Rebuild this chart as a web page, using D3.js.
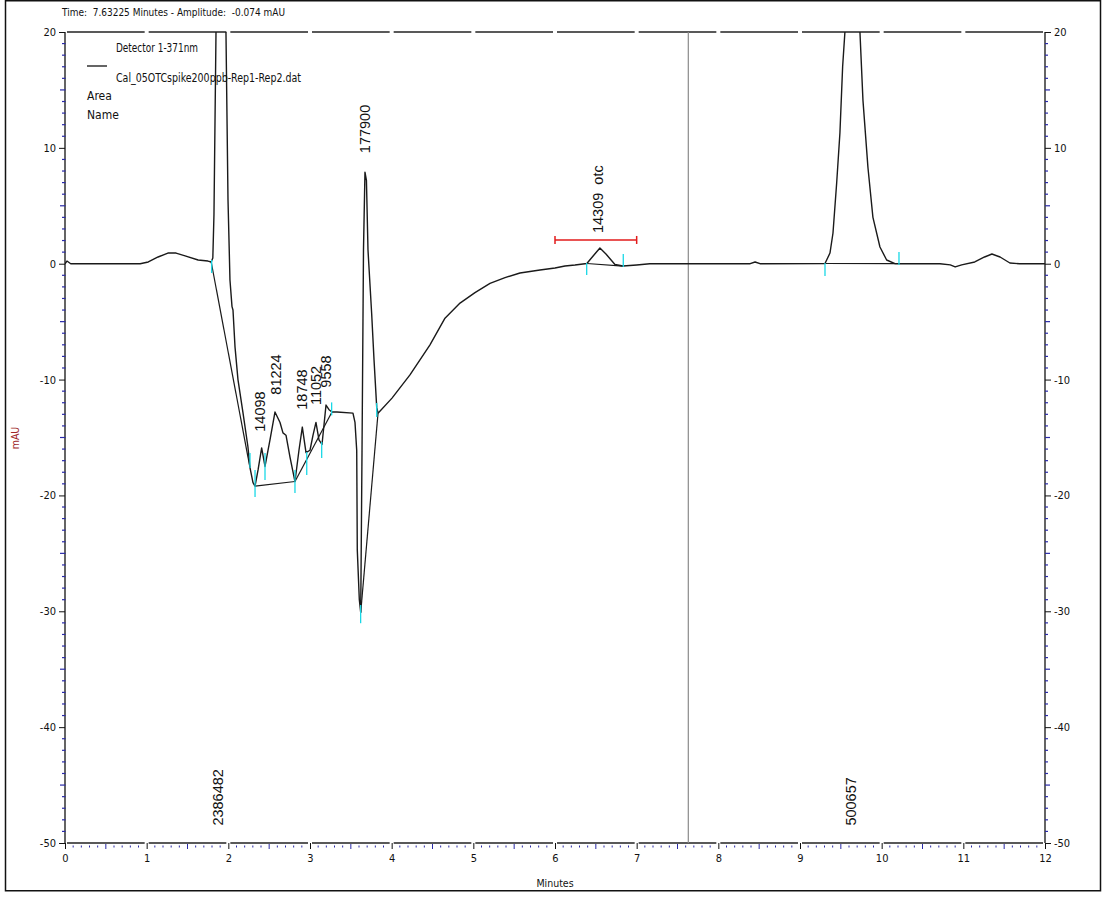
<!DOCTYPE html>
<html>
<head>
<meta charset="utf-8">
<script src="https://cdn.jsdelivr.net/npm/d3@7"></script>
<style>
  html, body { margin: 0; background: #fff; }
  svg { display: block; }
</style>
</head>
<body>
<svg id="chart" width="1103" height="897"></svg>
<script>
// ---- data -------------------------------------------------------------
const cursorTime = 7.63225;           // minutes
const cursorAmplitude = -0.074;       // mAU
const detectorName = "Detector 1-371nm";
const fileName = "Cal_05OTCspike200ppb-Rep1-Rep2.dat";
const legendFields = ["Area", "Name"];

const timeTicks = [0, 1, 2, 3, 4, 5, 6, 7, 8, 9, 10, 11, 12];
const mauTicks = [20, 10, 0, -10, -20, -30, -40, -50];

// detector trace: [minutes, mAU]
const trace = [
  [0.00, 0.00], [0.024, 0.23], [0.07, 0.00], [0.43, 0.00], [0.92, 0.00],
  [1.02, 0.15], [1.14, 0.58], [1.26, 0.92], [1.36, 0.92], [1.48, 0.66],
  [1.63, 0.32], [1.75, 0.23], [1.79, 0.15], [1.81, 0.49], [1.824, 4.2],
  [1.837, 12.4], [1.849, 20.0], [1.91, 60.0], [1.971, 20.0], [1.984, 12.4],
  [1.996, 5.5], [2.02, -1.4], [2.045, -3.7], [2.057, -4.0], [2.082, -7.2],
  [2.118, -10.0], [2.18, -12.9], [2.24, -15.8], [2.265, -17.6], [2.302, -18.9],
  [2.327, -19.2], [2.364, -17.8], [2.408, -15.9], [2.449, -17.5], [2.51, -15.2],
  [2.571, -12.8], [2.633, -13.7], [2.669, -14.6], [2.706, -14.8], [2.755, -16.7],
  [2.816, -18.8], [2.865, -16.1], [2.906, -14.1], [2.951, -16.3], [3.00, -16.1],
  [3.037, -14.8], [3.073, -13.7], [3.11, -15.2], [3.147, -15.6], [3.196, -12.2],
  [3.233, -12.6], [3.269, -12.8], [3.33, -12.8], [3.526, -12.9], [3.551, -13.7],
  [3.572, -16.1], [3.579, -24.7], [3.604, -29.0], [3.621, -30.1], [3.637, -16.1],
  [3.655, 1.2], [3.673, 7.9], [3.691, 7.2], [3.71, 1.2], [3.755, -4.3],
  [3.784, -8.3], [3.817, -12.4], [3.833, -12.9], [4.004, -11.6], [4.224, -9.6],
  [4.469, -7.0], [4.653, -4.7], [4.837, -3.4], [5.02, -2.5], [5.204, -1.7],
  [5.388, -1.2], [5.571, -0.8], [5.816, -0.54], [6.00, -0.37], [6.122, -0.2],
  [6.245, -0.11], [6.39, 0.02], [6.477, 0.75], [6.55, 1.35], [6.624, 0.84],
  [6.734, -0.07], [6.832, -0.2], [7.00, -0.11], [7.16, 0.00], [7.78, 0.00],
  [8.39, 0.00], [8.45, 0.15], [8.51, 0.00], [9.306, 0.02], [9.367, 0.92],
  [9.404, 2.65], [9.449, 6.97], [9.489, 11.3], [9.522, 17.0], [9.55, 20.0],
  [9.64, 45.0], [9.734, 20.0], [9.771, 14.1], [9.832, 8.3], [9.893, 4.0],
  [9.979, 1.44], [10.061, 0.32], [10.163, 0.00], [10.714, 0.00], [10.84, -0.1],
  [10.90, -0.28], [10.98, -0.1], [11.14, 0.15], [11.26, 0.58], [11.35, 0.84],
  [11.45, 0.58], [11.57, 0.06], [11.69, 0.00], [12.00, 0.00]
];

// integration baselines: [[start min, start mAU], [end min, end mAU]]
const baselines = [
  [[1.79, 0.15], [2.265, -17.6]],
  [[2.327, -19.2], [2.816, -18.8]],
  [[2.816, -18.8], [3.269, -12.8]],
  [[3.621, -30.1], [3.833, -12.9]],
  [[6.39, 0.02], [6.832, -0.2]],
  [[9.306, 0.02], [10.163, 0.00]]
];

// peak start / stop events: [minutes, top mAU, bottom mAU]
const events = [
  [1.796, 0.32, -0.80], [2.265, -16.34, -17.63], [2.327, -17.81, -20.14],
  [2.449, -16.34, -18.67], [2.816, -17.81, -19.79], [2.96, -16.25, -18.24],
  [3.143, -15.39, -16.77], [3.265, -11.97, -13.09], [3.62, -29.46, -31.03],
  [3.817, -12.02, -13.23], [6.388, 0.06, -0.97], [6.836, 0.84, -0.28],
  [9.306, 0.06, -1.06], [10.212, 1.01, -0.11]
];

// peak annotations: [text, minutes, mAU at start of text]
const peakLabels = [
  ["2386482", 1.873, -48.5],
  ["14098", 2.388, -14.5],
  ["81224", 2.584, -11.3],
  ["18748", 2.902, -12.6],
  ["11052", 3.073, -12.2],
  ["9558", 3.202, -10.7],
  ["177900", 3.673, 9.54],
  ["14309  otc", 6.526, 2.65],
  ["500657", 9.624, -48.5]
];

// identification window for otc: [from min, to min, mAU level]
const otcWindow = [6.0, 7.0, 2.05];

// ---- layout -----------------------------------------------------------
const plot = { left: 65, right: 1045, top: 32, bottom: 843 };
const condensed = '"Liberation Sans Narrow","Arial Narrow","DejaVu Sans Condensed","Liberation Sans",Arial,sans-serif';
const regular = '"Liberation Sans",Arial,sans-serif';
const minorBlue = "#2a2aa8";
const plainInt = d => String(d);   // hyphen-minus, as the data system prints it

const svg = d3.select("#chart");
const x = d3.scaleLinear().domain([0, 12]).range([plot.left, plot.right]);
const y = d3.scaleLinear().domain([-50, 20]).range([plot.bottom, plot.top]);

// outer frame
svg.append("rect")
  .attr("x", 5.5).attr("y", 0.75).attr("width", 1095).attr("height", 890)
  .attr("fill", "none").attr("stroke", "#111").attr("stroke-width", 1.5);

svg.append("defs").append("clipPath").attr("id", "plotClip")
  .append("rect")
  .attr("x", plot.left).attr("y", plot.top)
  .attr("width", plot.right - plot.left).attr("height", plot.bottom - plot.top);

// header
svg.append("text")
  .attr("x", 62).attr("y", 16)
  .attr("font-family", condensed).attr("font-size", 11).attr("fill", "#111")
  .attr("textLength", 223).attr("lengthAdjust", "spacingAndGlyphs")
  .attr("xml:space", "preserve")
  .text(`Time:  ${cursorTime.toFixed(5)} Minutes - Amplitude:  ${cursorAmplitude.toFixed(3)} mAU`);

// ---- horizontal frame lines broken at each whole minute -----------------
const gapped = svg.append("g").attr("stroke", "#222").attr("stroke-width", 1.3);
[plot.top, plot.bottom].forEach(yy => {
  d3.range(0, 12).forEach(i => {
    gapped.append("line")
      .attr("x1", x(i) + 2).attr("x2", x(i + 1) - 2)
      .attr("y1", yy).attr("y2", yy);
  });
});

// bottom axis: whole-minute ticks and labels
const xAxis = d3.axisBottom(x).tickValues(timeTicks).tickSize(6).tickPadding(5)
  .tickFormat(plainInt);
const gx = svg.append("g").attr("transform", `translate(0,${plot.bottom})`).call(xAxis);
gx.select(".domain").remove();
gx.selectAll(".tick line").attr("stroke", "#111");
gx.selectAll(".tick text").attr("font-family", condensed).attr("font-size", 11).attr("fill", "#111");

// bottom axis: tenth-minute dotted minor ticks
const tenthTicks = d3.range(0, 121).map(k => k / 10).filter(v => Math.abs(v - Math.round(v)) > 1e-6);
const gxm = svg.append("g").attr("transform", `translate(0,${plot.bottom})`);
gxm.selectAll("line").data(tenthTicks).join("line")
  .attr("x1", d => x(d)).attr("x2", d => x(d))
  .attr("y1", d => Math.abs(d % 1 - 0.5) < 1e-6 ? 1 : 2.5)
  .attr("y2", d => Math.abs(d % 1 - 0.5) < 1e-6 ? 6 : 4.5)
  .attr("stroke", minorBlue).attr("stroke-width", 1);

// left and right axes
function yAxisGroup(side) {
  const atX = side === "left" ? plot.left : plot.right;
  const axis = (side === "left" ? d3.axisLeft(y) : d3.axisRight(y))
    .tickValues(mauTicks).tickSize(6).tickPadding(3).tickFormat(plainInt);
  const g = svg.append("g").attr("transform", `translate(${atX},0)`).call(axis);
  g.select(".domain").attr("stroke", "#111").attr("stroke-width", 1.3)
    .attr("d", `M0,${plot.top}V${plot.bottom}`);
  g.selectAll(".tick line").attr("stroke", "#111");
  g.selectAll(".tick text").attr("font-family", condensed).attr("font-size", 11).attr("fill", "#111");
  const minor = d3.range(-50, 21).filter(v => v % 10 !== 0);
  const dir = side === "left" ? -1 : 1;
  g.selectAll("line.minor").data(minor).join("line").attr("class", "minor")
    .attr("x1", side === "left" ? 0.5 : 0)
    .attr("x2", d => dir * (d % 5 === 0 ? 5 : 3))
    .attr("y1", d => y(d)).attr("y2", d => y(d))
    .attr("stroke", minorBlue).attr("stroke-width", 1.2);
}
yAxisGroup("left");
yAxisGroup("right");

// axis titles
svg.append("text")
  .attr("x", x(6)).attr("y", 887).attr("text-anchor", "middle")
  .attr("font-family", condensed).attr("font-size", 10.5).attr("fill", "#111")
  .text("Minutes");
svg.append("text")
  .attr("transform", `translate(19,438) rotate(-90)`)
  .attr("text-anchor", "middle")
  .attr("font-family", condensed).attr("font-size", 10.5).attr("fill", "#a0282a")
  .text("mAU");

// cursor line
svg.append("line")
  .attr("x1", x(cursorTime)).attr("x2", x(cursorTime))
  .attr("y1", plot.top).attr("y2", plot.bottom)
  .attr("stroke", "#8a8a8a").attr("stroke-width", 1.2);

// ---- trace, baselines, events ------------------------------------------
const plotArea = svg.append("g").attr("clip-path", "url(#plotClip)");
const line = d3.line().x(d => x(d[0])).y(d => y(d[1]));

plotArea.selectAll("path.base").data(baselines).join("path").attr("class", "base")
  .attr("d", line).attr("fill", "none").attr("stroke", "#1a1a1a").attr("stroke-width", 1.2);

plotArea.append("path").datum(trace)
  .attr("d", line).attr("fill", "none")
  .attr("stroke", "#1a1a1a").attr("stroke-width", 1.4).attr("stroke-linejoin", "round");

plotArea.selectAll("line.event").data(events).join("line").attr("class", "event")
  .attr("x1", d => x(d[0])).attr("x2", d => x(d[0]))
  .attr("y1", d => y(d[1])).attr("y2", d => y(d[2]))
  .attr("stroke", "#19d8e6").attr("stroke-width", 1.3);

// otc window
const ow = svg.append("g").attr("stroke", "#e21b1b").attr("stroke-width", 1.5);
ow.append("line").attr("x1", x(otcWindow[0])).attr("x2", x(otcWindow[1]))
  .attr("y1", y(otcWindow[2])).attr("y2", y(otcWindow[2]));
[otcWindow[0], otcWindow[1]].forEach(t => {
  ow.append("line").attr("x1", x(t)).attr("x2", x(t))
    .attr("y1", y(otcWindow[2]) - 4).attr("y2", y(otcWindow[2]) + 4);
});

// peak annotations (rotated, reading upward)
svg.selectAll("text.peak").data(peakLabels).join("text").attr("class", "peak")
  .attr("transform", d => `translate(${x(d[1]) + 5},${y(d[2])}) rotate(-90)`)
  .attr("font-family", regular).attr("font-size", 14.5).attr("fill", "#111")
  .attr("xml:space", "preserve")
  .text(d => d[0]);

// legend
const lg = svg.append("g").attr("font-family", condensed).attr("font-size", 12).attr("fill", "#111");
lg.append("text").attr("x", 116).attr("y", 52)
  .attr("textLength", 82).attr("lengthAdjust", "spacingAndGlyphs").text(detectorName);
lg.append("line").attr("x1", 87).attr("x2", 107).attr("y1", 66).attr("y2", 66)
  .attr("stroke", "#111").attr("stroke-width", 1.3);
lg.append("text").attr("x", 116).attr("y", 82)
  .attr("textLength", 185).attr("lengthAdjust", "spacingAndGlyphs").text(fileName);
legendFields.forEach((f, i) => {
  lg.append("text").attr("x", 87).attr("y", 100 + i * 19).text(f);
});
</script>
</body>
</html>
